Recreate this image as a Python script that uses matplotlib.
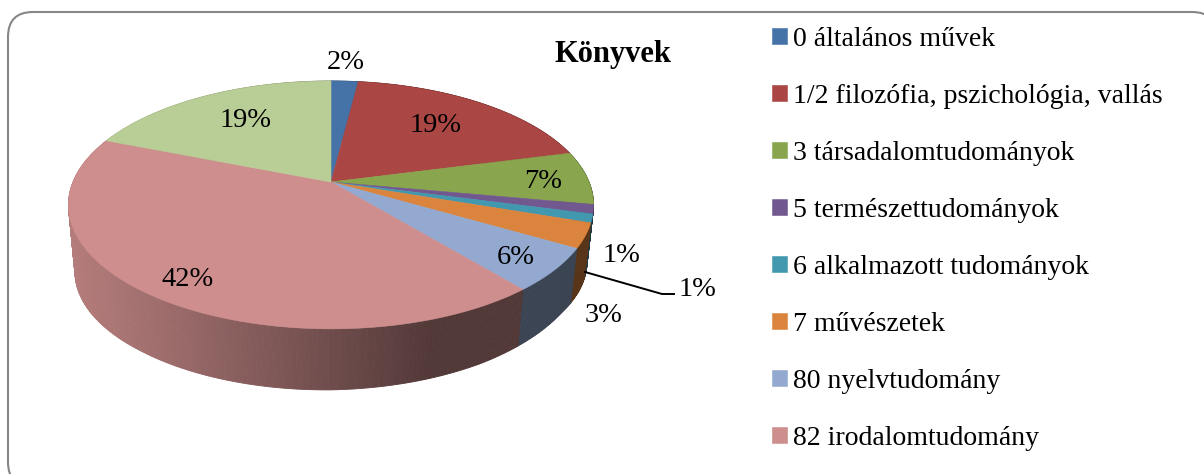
import numpy as np
import matplotlib
matplotlib.use("Agg")
import matplotlib.pyplot as plt
from matplotlib.patches import FancyBboxPatch, Polygon

# Share of each class, starting at 12 o'clock and going clockwise
values = [2.0, 18.95, 6.95, 1.2, 1.1, 3.2, 5.6, 42.0, 19.0]
value_labels = ["2%", "19%", "7%", "1%", "1%", "3%", "6%", "42%", "19%"]
categories = [
    "0 általános művek",
    "1/2 filozófia, pszichológia, vallás",
    "3 társadalomtudományok",
    "5 természettudományok",
    "6 alkalmazott tudományok",
    "7 művészetek",
    "80 nyelvtudomány",
    "82 irodalomtudomány",
]
title = "Könyvek"

colors = ["#4572A7", "#AA4643", "#89A54E", "#71588F", "#4198AF",
          "#DB843D", "#93A9CF", "#CE8E8D", "#B9CD96"]

# pixel spots of the percent labels, same order as values
label_xy = [(346, 62), (436, 125), (543, 182), (621, 256), (697, 289),
            (604, 315), (516, 257), (188, 279), (246, 120)]

CX, CY = 331, 182      # where the slices meet
RX, RY = 258, 119.7    # size of the disc before perspective
TILT = 0.185           # far edge shrinks, near edge grows


def disc(theta, shrink=1.0):
    # theta is clockwise from the top, in radians
    x = np.sin(theta)
    y = np.cos(theta)
    w = 1 + TILT * y
    return CX + shrink * RX * x / w, CY - RY * y / w


def wall_height(theta):
    return np.interp(np.degrees(theta), [0, 100, 125, 150, 180, 220, 259, 360],
                     [60, 57, 54, 58, 61, 63, 67, 67])


def side_shade(x):
    return np.interp(x, [69, 180, 300, 430, 600], [0.88, 0.74, 0.58, 0.40, 0.40])


def main():
    plt.rcParams["font.family"] = ["Liberation Serif", "DejaVu Serif"]
    fig = plt.figure(figsize=(12.04, 4.74), dpi=100)
    ax = fig.add_axes([0, 0, 1, 1])
    ax.set_xlim(0, 1204)
    ax.set_ylim(474, 0)
    ax.axis("off")

    # chart frame runs off the right and bottom of the picture
    frame = FancyBboxPatch((33, 37), 1159, 425, boxstyle="round,pad=25,rounding_size=25",
                           facecolor="white", edgecolor="#868686", linewidth=1.5)
    ax.add_patch(frame)

    shares = np.array(values) / sum(values)
    edges = np.concatenate([[0], np.cumsum(shares)]) * 2 * np.pi

    # side wall first, cut into thin strips so the shading can follow x
    strips = []
    for i in range(len(values)):
        steps = np.arange(edges[i], edges[i + 1], np.radians(0.5))
        steps = np.append(steps, edges[i + 1])
        for a, b in zip(steps[:-1], steps[1:]):
            strips.append((np.cos((a + b) / 2), a, b, i))
    strips.sort(key=lambda s: -s[0])
    for _, a, b, i in strips:
        x1, y1 = disc(a)
        x2, y2 = disc(b)
        x3, y3 = disc(b, 0.975)
        x4, y4 = disc(a, 0.975)
        y3 += wall_height(b)
        y4 += wall_height(a)
        shade = side_shade((x1 + x2) / 2)
        rgb = np.array(matplotlib.colors.to_rgb(colors[i])) * shade
        ax.add_patch(Polygon([(x1, y1), (x2, y2), (x3, y3), (x4, y4)],
                             facecolor=rgb, edgecolor=rgb, linewidth=0.6))

    # top of the pie
    handles = []
    for i in range(len(values)):
        arc = np.linspace(edges[i], edges[i + 1], 120)
        xs, ys = disc(arc)
        pts = [(CX, CY)] + list(zip(xs, ys))
        patch = Polygon(pts, facecolor=colors[i], edgecolor=colors[i], linewidth=0.4)
        ax.add_patch(patch)
        handles.append(patch)

    for (x, y), text in zip(label_xy, value_labels):
        ax.text(x, y, text, fontsize=20.5, ha="center", va="center", color="black")

    # leader line of the second 1% label
    ax.plot([585, 662, 674], [272, 294, 294], color="black", linewidth=1.4)

    ax.text(613, 54, title, fontsize=22, fontweight="bold", ha="center", va="center")

    ax.legend(handles[:len(categories)], categories, loc="upper left",
              bbox_to_anchor=(772 / 1204, 1 - 27 / 474), frameon=False, fontsize=20,
              handlelength=0.54, handleheight=0.54, handletextpad=0.22,
              labelspacing=1.15, borderpad=0, borderaxespad=0)

    fig.savefig("out.png", dpi=100)


if __name__ == "__main__":
    main()
